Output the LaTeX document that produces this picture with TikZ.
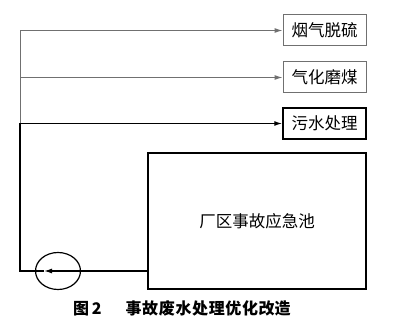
\documentclass[tikz,border=0pt]{standalone}
\usepackage{fontspec}
\setmainfont{Noto Sans CJK SC}
\usetikzlibrary{arrows.meta,shapes.geometric}
\definecolor{lgray}{HTML}{707070}
\tikzset{
  box/.style={draw=lgray,line width=1pt,minimum width=83pt,minimum height=31pt,inner sep=0pt,font=\fontsize{16.5pt}{16.5pt}\selectfont},
  blackbox/.style={box,draw=black,line width=1.5pt},
  gline/.style={draw=lgray,line width=1pt},
  bline/.style={draw=black,line width=1.3pt},
  tip/.style={-{Latex[length=8pt,width=5pt]}}
}
\begin{document}
\begin{tikzpicture}[x=1pt,y=-1pt]
\useasboundingbox (0,0) rectangle (393,328);
\node[box] (b1) at (324.5,30.5) {烟气脱硫};
\node[box] (b2) at (324.5,77.5) {气化磨煤};
\node[blackbox] (b3) at (324.5,123.5) {污水处理};
\node[draw=black,line width=1.3pt,minimum width=218pt,minimum height=136pt,inner sep=0pt,font=\fontsize{16.5pt}{16.5pt}\selectfont] (pool) at (257,221) {厂区事故应急池};
\node[draw=black,line width=1.2pt,ellipse,minimum width=45pt,minimum height=37pt,inner sep=0pt] (pump) at (58,271) {};
\coordinate (c1) at (20,30.5);
\coordinate (c2) at (20,77.5);
\coordinate (c3) at (20,123.5);
\coordinate (c4) at (20,271);
\coordinate (p) at (148,271);
\coordinate (t) at (44,271);
\draw[gline] (c3) -- (c1);
\draw[gline,tip] (c1) -- (b1.west);
\draw[gline,tip] (c2) -- (b2.west);
\draw[bline,tip] (p) -- (t);
\draw[bline] (t) -- (c4) -- (c3);
\draw[bline,tip] (c3) -- (b3.west);
\node[font=\fontsize{16pt}{16pt}\selectfont\bfseries,inner sep=0pt,anchor=west] (cap) at (73,308) {图\,2\hspace{24pt}{\addfontfeature{LetterSpace=4}事故废水处理优化改}造};
\end{tikzpicture}
\end{document}
